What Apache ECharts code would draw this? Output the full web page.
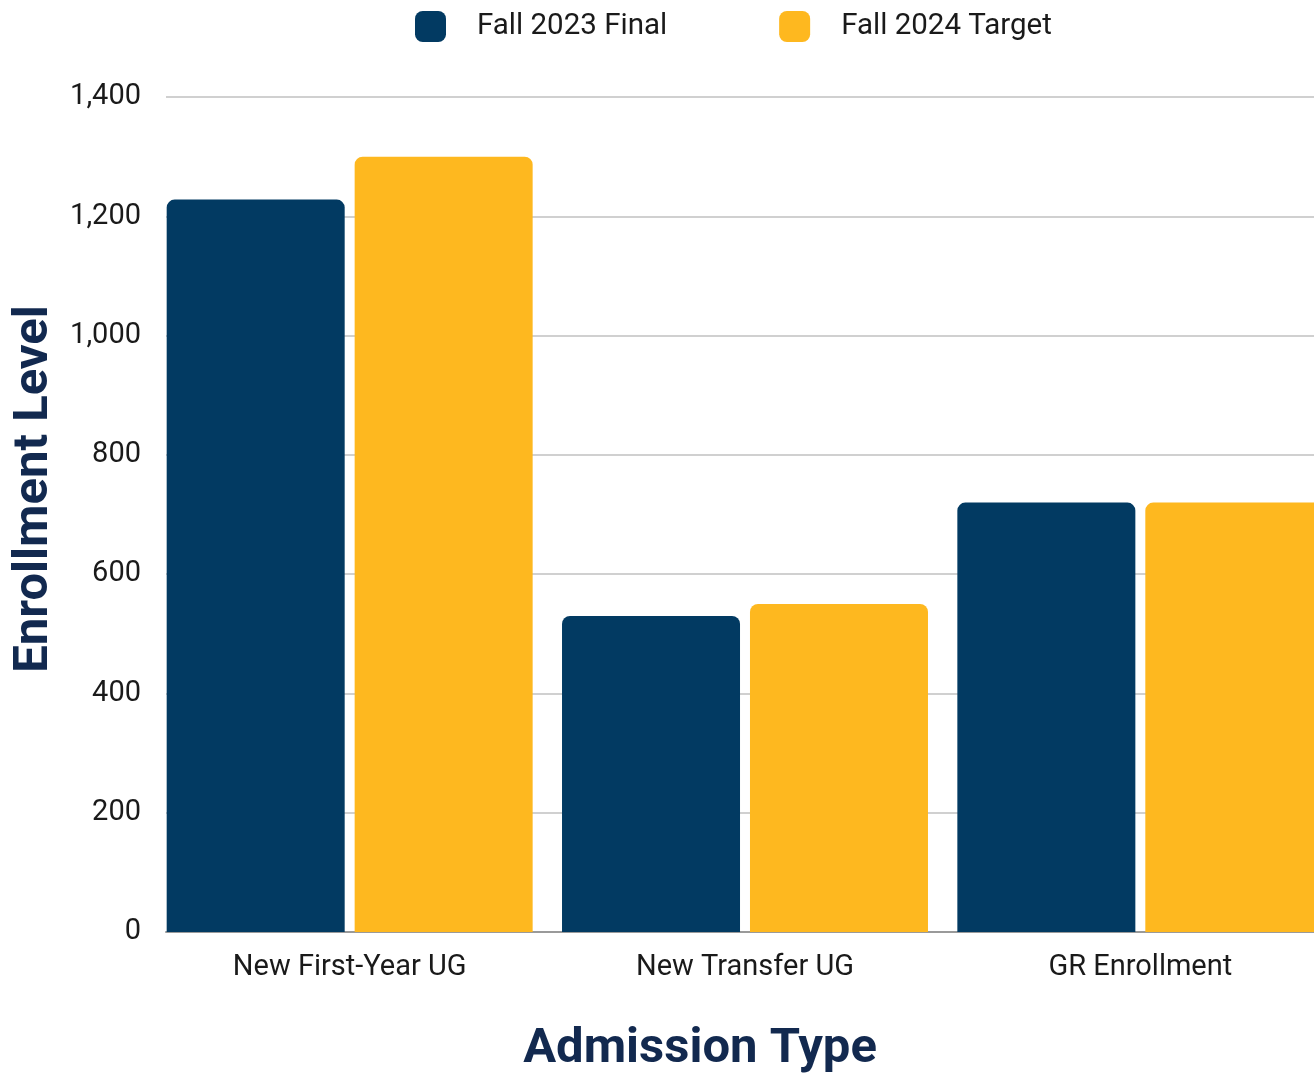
<!DOCTYPE html>
<html lang="en">
<head>
    <meta charset="UTF-8">
    <title>Enrollment Level by Admission Type</title>
    <style>
        html, body { margin: 0; padding: 0; background: #fff; overflow: hidden; }
        /* a bit wider than the window: the last bar runs off the right edge */
        #chart { width: 1340px; height: 1076px; }
    </style>
</head>
<body>
    <div id="chart"></div>
    <script src="https://cdn.jsdelivr.net/npm/echarts@6/dist/echarts.min.js"></script>
    <script>
        var categories = ['New First-Year UG', 'New Transfer UG', 'GR Enrollment'];
        var fall2023 = [1228, 530, 720];
        var fall2024 = [1300, 550, 720];
        var yTicks = [0, 200, 400, 600, 800, 1000, 1200, 1400];

        var font = "'Roboto', sans-serif";
        var navy = '#023a62';
        var gold = '#feb81f';
        var titleColor = '#12294f';

        var myChart = echarts.init(document.getElementById('chart'));
        var option = {
            backgroundColor: '#fff',
            animation: false,
            textStyle: { fontFamily: font },
            legend: {
                left: 410,
                top: 6,
                icon: 'roundRect',
                itemWidth: 31,
                itemHeight: 31,
                itemGap: 112,
                textStyle: {
                    fontFamily: font,
                    fontSize: 29.5,
                    color: '#1a1a1a',
                    padding: [0, 0, 0, 26]
                },
                data: ['Fall 2023 Final', 'Fall 2024 Target']
            },
            // grid 0 carries the gridlines and the y labels, grid 1 carries the bars
            grid: [
                { left: 166, right: 26, top: 97, bottom: 144 },
                { left: 152, width: 1186, top: 97, bottom: 144 }
            ],
            xAxis: [{
                gridIndex: 0,
                type: 'category',
                data: categories,
                axisTick: { show: false },
                axisLabel: { show: false },
                axisLine: { lineStyle: { color: '#9a9a9a', width: 2 } }
            }, {
                gridIndex: 1,
                type: 'category',
                data: categories,
                axisTick: { show: false },
                axisLine: { show: false },
                axisLabel: {
                    fontFamily: font,
                    fontSize: 29,
                    color: '#1a1a1a',
                    margin: 21
                }
            }],
            yAxis: [{
                gridIndex: 0,
                type: 'value',
                min: yTicks[0],
                max: yTicks[yTicks.length - 1],
                interval: 200,
                axisLine: { show: false },
                axisTick: { show: false },
                axisLabel: {
                    fontFamily: font,
                    fontSize: 29,
                    color: '#1a1a1a',
                    margin: 25,
                    padding: [3, 0, 0, 0],
                    formatter: function(v) { return v.toLocaleString('en-US'); }
                },
                splitLine: { lineStyle: { color: '#d0d0d0', width: 2 } }
            }, {
                gridIndex: 1,
                type: 'value',
                min: yTicks[0],
                max: yTicks[yTicks.length - 1],
                show: false
            }],
            series: [{
                name: 'Fall 2023 Final',
                type: 'bar',
                xAxisIndex: 1,
                yAxisIndex: 1,
                barWidth: 178,
                barGap: '5.6%',
                data: fall2023,
                itemStyle: { color: navy, borderRadius: [8, 8, 0, 0] }
            }, {
                name: 'Fall 2024 Target',
                type: 'bar',
                xAxisIndex: 1,
                yAxisIndex: 1,
                barWidth: 178,
                barGap: '5.6%',
                data: fall2024,
                itemStyle: { color: gold, borderRadius: [8, 8, 0, 0] }
            }],
            graphic: [{
                type: 'text',
                x: 35,
                y: 489,
                rotation: Math.PI / 2,
                style: {
                    text: 'Enrollment Level',
                    fontFamily: font,
                    fontWeight: 'bold',
                    fontSize: 49,
                    fill: titleColor,
                    textAlign: 'center',
                    textVerticalAlign: 'middle'
                }
            }, {
                type: 'text',
                x: 700,
                y: 1050,
                style: {
                    text: 'Admission Type',
                    fontFamily: font,
                    fontWeight: 'bold',
                    fontSize: 49,
                    fill: titleColor,
                    textAlign: 'center',
                    textVerticalAlign: 'middle'
                }
            }]
        };
        myChart.setOption(option);
    </script>
</body>
</html>
